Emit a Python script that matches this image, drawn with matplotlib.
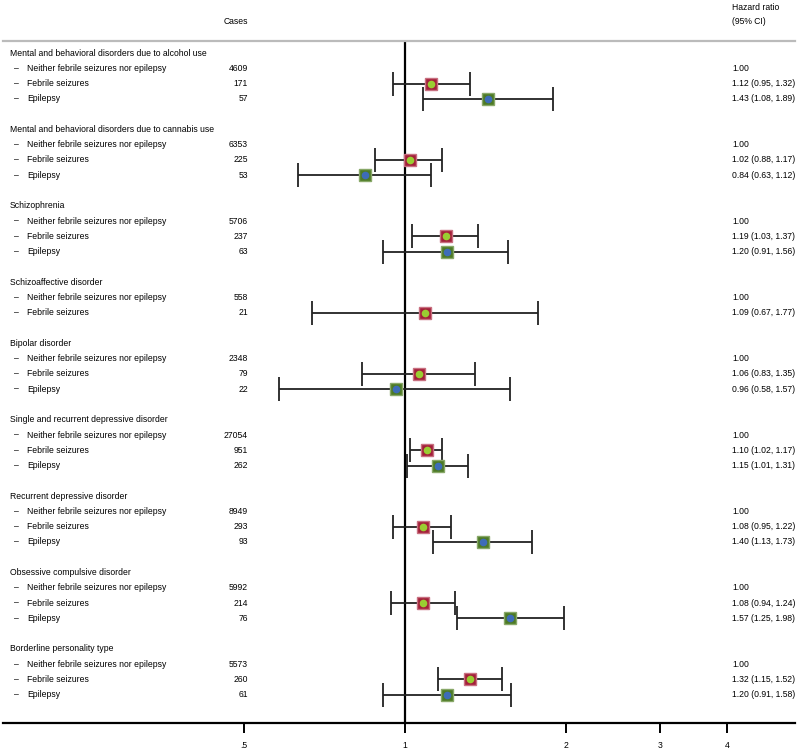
import matplotlib
matplotlib.use("Agg")
import matplotlib.pyplot as plt
import matplotlib.transforms as mtransforms

plt.rcParams['font.family'] = ['Liberation Sans', 'DejaVu Sans']

# data
outcomes = ["Mental and behavioral disorders due to alcohol use",
            "Mental and behavioral disorders due to cannabis use",
            "Schizophrenia",
            "Schizoaffective disorder",
            "Bipolar disorder",
            "Single and recurrent depressive disorder",
            "Recurrent depressive disorder",
            "Obsessive compulsive disorder",
            "Borderline personality type"]
exposures = ["Neither febrile seizures nor epilepsy", "Febrile seizures", "Epilepsy"]
cases = [[4609, 171, 57], [6353, 225, 53], [5706, 237, 63], [558, 21],
         [2348, 79, 22], [27054, 951, 262], [8949, 293, 93], [5992, 214, 76],
         [5573, 260, 61]]
hr = [[1.00, 1.12, 1.43], [1.00, 1.02, 0.84], [1.00, 1.19, 1.20], [1.00, 1.09],
      [1.00, 1.06, 0.96], [1.00, 1.10, 1.15], [1.00, 1.08, 1.40], [1.00, 1.08, 1.57],
      [1.00, 1.32, 1.20]]
lo = [[None, 0.95, 1.08], [None, 0.88, 0.63], [None, 1.03, 0.91], [None, 0.67],
      [None, 0.83, 0.58], [None, 1.02, 1.01], [None, 0.95, 1.13], [None, 0.94, 1.25],
      [None, 1.15, 0.91]]
hi = [[None, 1.32, 1.89], [None, 1.17, 1.12], [None, 1.37, 1.56], [None, 1.77],
      [None, 1.35, 1.57], [None, 1.17, 1.31], [None, 1.22, 1.73], [None, 1.24, 1.98],
      [None, 1.52, 1.58]]
xticks = [0.5, 1, 2, 3, 4]
xticklabels = [".5", "1", "2", "3", "4"]

W, H = 800, 751
fig = plt.figure(figsize=(8, 7.51), dpi=100)

# axes area in pixels: x 3..795, y 41..723
row0, step = 53, 15.28
ax = fig.add_axes([3 / W, 1 - 723 / H, 792 / W, (723 - 41) / H])
ax.set_xscale('log')
ax.set_xlim(0.177, 5.36)
ax.set_ylim((723 - row0) / step, (41 - row0) / step)

for s in ['left', 'right']:
    ax.spines[s].set_visible(False)
ax.spines['top'].set_color('#bbbbbb')
ax.spines['top'].set_linewidth(1.6)
ax.spines['bottom'].set_linewidth(1.6)
ax.set_yticks([])
fs = 6.2
ax.set_xticks(xticks)
ax.set_xticklabels(xticklabels, fontsize=fs)
ax.xaxis.set_minor_locator(matplotlib.ticker.NullLocator())
ax.tick_params(axis='x', length=7, width=1.4, pad=6)

ax.axvline(1, color='black', lw=1.6, zorder=1)

tr = mtransforms.blended_transform_factory(fig.transFigure, ax.transData)

def fx(px):
    return px / W

hr_x = 732
fig.text(fx(248), 1 - 22 / H, "Cases", ha='right', va='center', fontsize=fs)
fig.text(fx(hr_x), 1 - 8 / H, "Hazard ratio", ha='left', va='center', fontsize=fs)
fig.text(fx(hr_x), 1 - 22 / H, "(95% CI)", ha='left', va='center', fontsize=fs)

row = 0
for g, name in enumerate(outcomes):
    ax.text(fx(10), row, name, transform=tr, ha='left', va='center', fontsize=fs)
    row += 1
    for k in range(len(cases[g])):
        ax.text(fx(14), row, "\u2013", transform=tr, ha='left', va='center', fontsize=fs)
        ax.text(fx(27), row, exposures[k], transform=tr, ha='left', va='center', fontsize=fs)
        ax.text(fx(248), row, str(cases[g][k]), transform=tr, ha='right', va='center', fontsize=fs)
        if lo[g][k] is None:
            txt = "%.2f" % hr[g][k]
        else:
            txt = "%.2f (%.2f, %.2f)" % (hr[g][k], lo[g][k], hi[g][k])
            ax.errorbar(hr[g][k], row,
                        xerr=[[hr[g][k] - lo[g][k]], [hi[g][k] - hr[g][k]]],
                        fmt='none', ecolor='#222222', elinewidth=1.3,
                        capsize=8.5, capthick=1.3, zorder=2)
            if k == 1:
                sq, sq_edge, dot = '#a3203a', '#c87080', '#9acd32'
            else:
                sq, sq_edge, dot = '#4d7a26', '#88a868', '#3d6cb8'
            ax.plot(hr[g][k], row, marker='s', ms=8, mfc=sq, mec=sq_edge, mew=1, zorder=3)
            ax.plot(hr[g][k], row, marker='o', ms=5.5, mfc=dot, mec=dot, mew=0, zorder=4)
        ax.text(fx(hr_x), row, txt, transform=tr, ha='left', va='center', fontsize=fs)
        row += 1
    row += 1

fig.savefig("out.png", dpi=100)
